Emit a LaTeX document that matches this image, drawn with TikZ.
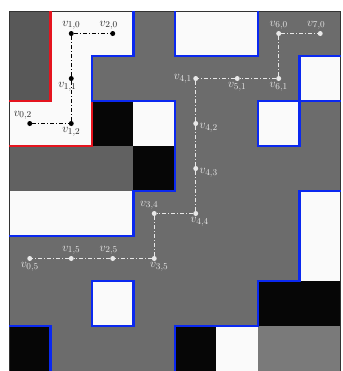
\documentclass[tikz,border=0pt]{standalone}
\usetikzlibrary{positioning}

\definecolor{gA}{HTML}{585858}
\definecolor{gB}{HTML}{6C6C6C}
\definecolor{gC}{HTML}{616161}
\definecolor{gD}{HTML}{7A7A7A}
\definecolor{wh}{HTML}{FAFAFA}
\definecolor{bk}{HTML}{060606}
\definecolor{bndblue}{HTML}{0A28F0}
\definecolor{bndred}{HTML}{E5141E}
\definecolor{trailwhite}{HTML}{E8E8E8}

\begin{document}
\begin{tikzpicture}[
    x=41.5pt,
    y=-45pt,
    font=\fontsize{12.5}{14}\selectfont,
    wall/.style={line width=2.4pt, draw=bndblue},
    hall/.style={line width=2.6pt, draw=bndred},
    vtx/.style={circle, fill=#1, inner sep=0pt, minimum size=5pt},
    trail/.style={draw=#1, line width=1.1pt, dash pattern=on 4pt off 2pt on 1pt off 2pt},
    lbk/.style={text=black!85, inner sep=1pt},
    lwh/.style={text=trailwhite, inner sep=1pt}
]

\useasboundingbox[fill=white] (-0.217,-0.245) rectangle (8.048,8);

% Cells, row by row
\foreach \row [count=\r from 0] in {
    {gA,wh,wh,gB,wh,wh,gB,gB},
    {gA,wh,gB,gB,gB,gB,gB,wh},
    {wh,wh,bk,wh,gB,gB,wh,gB},
    {gC,gC,gC,bk,gB,gB,gB,gB},
    {wh,wh,wh,gB,gB,gB,gB,wh},
    {gB,gB,gB,gB,gB,gB,gB,wh},
    {gB,gB,wh,gB,gB,gB,bk,bk},
    {bk,gB,gB,gB,bk,wh,gD,gD}}
    \foreach \c [count=\k from 0] in \row
        \fill[\c] (\k,\r) rectangle ++(1,1);

% Frame
\draw[black!80, line width=1pt] (0,0) rectangle (8,8);

% Red boundary
\draw[hall] (1,0) -- (1,2) -- (0,2);
\draw[hall] (0,3) -- (2,3) -- (2,2);

% Blue boundaries
\draw[wall] (3,0) -- (3,1) -- (2,1) -- (2,2) -- (4,2) -- (4,4) -- (3,4) -- (3,5) -- (0,5);
\draw[wall] (4,0) -- (4,1) -- (6,1) -- (6,0);
\draw[wall] (8,1) -- (7,1) -- (7,2) -- (6,2) -- (6,3) -- (7,3) -- (7,2) -- (8,2);
\draw[wall] (8,4) -- (7,4) -- (7,6) -- (6,6) -- (6,7) -- (4,7) -- (4,8);
\draw[wall] (0,7) -- (1,7) -- (1,8);
\draw[wall] (2,6) rectangle (3,7);

% Vertices inside the red region
\node[vtx=black, label={[lbk]above:$v_{1,0}$}] (v10) at (1.5,0.5) {};
\node[vtx=black, label={[lbk, xshift=-4pt]above:$v_{2,0}$}] (v20) at (2.5,0.5) {};
\node[vtx=black, label={[lbk, xshift=-4pt]below:$v_{1,1}$}] (v11) at (1.5,1.5) {};
\node[vtx=black, label={[lbk]below:$v_{1,2}$}] (v12) at (1.5,2.5) {};
\node[vtx=black, label={[lbk, xshift=-7pt]above:$v_{0,2}$}] (v02) at (0.5,2.5) {};

% Vertices in the gray region
\node[vtx=trailwhite, label={[lwh]above:$v_{6,0}$}] (v60) at (6.5,0.5) {};
\node[vtx=trailwhite, label={[lwh, xshift=-4pt]above:$v_{7,0}$}] (v70) at (7.5,0.5) {};
\node[vtx=trailwhite, label={[lwh]below:$v_{6,1}$}] (v61) at (6.5,1.5) {};
\node[vtx=trailwhite, label={[lwh]below:$v_{5,1}$}] (v51) at (5.5,1.5) {};
\node[vtx=trailwhite, label={[lwh]left:$v_{4,1}$}] (v41) at (4.5,1.5) {};
\node[vtx=trailwhite, label={[lwh, yshift=-4pt]right:$v_{4,2}$}] (v42) at (4.5,2.5) {};
\node[vtx=trailwhite, label={[lwh, yshift=-4pt]right:$v_{4,3}$}] (v43) at (4.5,3.5) {};
\node[vtx=trailwhite, label={[lwh, xshift=4pt]below:$v_{4,4}$}] (v44) at (4.5,4.5) {};
\node[vtx=trailwhite, label={[lwh, xshift=-5pt]above:$v_{3,4}$}] (v34) at (3.5,4.5) {};
\node[vtx=trailwhite, label={[lwh, xshift=5pt]below:$v_{3,5}$}] (v35) at (3.5,5.5) {};
\node[vtx=trailwhite, label={[lwh, xshift=-4pt]above:$v_{2,5}$}] (v25) at (2.5,5.5) {};
\node[vtx=trailwhite, label={[lwh]above:$v_{1,5}$}] (v15) at (1.5,5.5) {};
\node[vtx=trailwhite, label={[lwh]below:$v_{0,5}$}] (v05) at (0.5,5.5) {};

% Paths in the red region
\draw[trail=black] (v10) -- (v20);
\draw[trail=black] (v10) -- (v11) -- (v12);
\draw[trail=black] (v02) -- (v12);

% Paths in the gray region
\draw[trail=trailwhite] (v60) -- (v70);
\draw[trail=trailwhite] (v60) -- (v61);
\draw[trail=trailwhite] (v61) -- (v51) -- (v41);
\draw[trail=trailwhite] (v41) -- (v42) -- (v43) -- (v44);
\draw[trail=trailwhite] (v44) -- (v34);
\draw[trail=trailwhite] (v34) -- (v35);
\draw[trail=trailwhite] (v35) -- (v25) -- (v15) -- (v05);

\end{tikzpicture}
\end{document}
